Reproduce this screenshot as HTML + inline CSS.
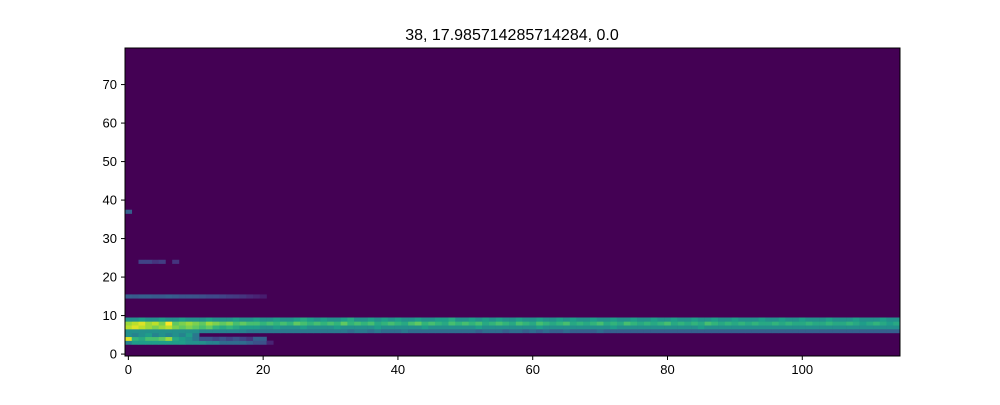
<!DOCTYPE html>
<html><head><meta charset="utf-8"><style>
body{margin:0;background:#fff;}
svg text{font-family:"Liberation Sans","DejaVu Sans",sans-serif;}
</style></head><body>
<svg id="chart" width="1000" height="400" xmlns="http://www.w3.org/2000/svg">
<rect width="1000" height="400" fill="#fff"/>
<text x="512" y="40" font-size="16" text-anchor="middle" fill="#000">38, 17.985714285714284, 0.0</text>
<g id="plot"></g>
<g id="axes"></g>
</svg>
<script>
const nCols = 115, nRows = 80;
const xTicks = [0,20,40,60,80,100];
const yTicks = [0,10,20,30,40,50,60,70];
const row9 = [.5,.5,.55,.5,.5,.55,.5,.5,.55,.5,.5,.5,.55,.5,.5,.5,.55,.5,.5,.55,.5,.5,.55,.5,.5,.55,.6,.55,.5,.55,.5,.5,.55,.6,.5,.5,.55,.5,.55,.5,.55,.5,.5,.55,.5,.5,.55,.55,.6,.5,.5,.55,.5,.55,.5,.55,.5,.5,.55,.5,.5,.55,.5,.5,.55,.5,.55,.5,.5,.55,.5,.5,.55,.5,.5,.55,.5,.5,.55,.5,.5,.55,.5,.5,.55,.5,.5,.55,.5,.5,.55,.5,.5,.5,.55,.5,.5,.55,.5,.5,.55,.5,.5,.5,.55,.5,.5,.5,.55,.5,.5,.5,.55,.5,.5];
const row8 = [.85,.9,.95,.85,.9,.8,1,.75,.8,.85,.8,.75,.85,.8,.75,.8,.7,.75,.7,.7,.65,.7,.65,.7,.65,.75,.7,.65,.7,.65,.7,.65,.75,.65,.7,.65,.7,.6,.65,.7,.65,.6,.7,.75,.65,.7,.65,.6,.7,.65,.7,.65,.7,.6,.65,.7,.65,.6,.7,.65,.6,.7,.65,.6,.65,.7,.6,.65,.6,.65,.7,.6,.65,.6,.7,.65,.6,.65,.6,.65,.7,.6,.65,.6,.65,.6,.7,.65,.6,.65,.6,.65,.6,.65,.6,.6,.65,.6,.65,.6,.6,.65,.6,.6,.65,.6,.6,.65,.6,.55,.6,.65,.6,.55,.6];
const row7 = [.9,.95,.9,.85,.8,.85,.9,.8,.75,.8,.75,.7,.75,.65,.6,.65,.6,.55,.55,.55,.5,.5,.55,.5,.5,.5,.55,.5,.5,.5,.5,.55,.5,.5,.5,.5,.5,.55,.5,.5,.5,.5,.5,.5,.55,.5,.5,.5,.5,.5,.5,.5,.55,.5,.5,.5,.5,.5,.5,.5,.5,.55,.5,.5,.5,.5,.5,.5,.5,.5,.5,.5,.55,.5,.5,.5,.5,.5,.5,.5,.5,.5,.5,.5,.5,.55,.5,.5,.5,.5,.5,.5,.5,.5,.5,.5,.5,.5,.5,.5,.5,.5,.5,.5,.5,.5,.5,.5,.5,.5,.5,.5,.5,.5,.5];
const row6 = [.5,.5,.5,.5,.5,.5,.5,.5,.5,.5,.5,.45,.45,.45,.45,.45,.45,.45,.4,.4,.4,.4,.4,.4,.4,.4,.4,.4,.4,.4,.4,.4,.4,.35,.4,.4,.35,.4,.35,.35,.35,.4,.35,.35,.35,.35,.35,.35,.35,.35,.35,.35,.3,.35,.35,.35,.3,.35,.35,.3,.35,.3,.35,.3,.3,.35,.3,.3,.3,.3,.35,.3,.3,.3,.3,.3,.3,.3,.3,.3,.3,.3,.3,.3,.3,.3,.3,.3,.3,.3,.3,.3,.3,.3,.3,.3,.3,.3,.3,.3,.3,.3,.3,.3,.3,.3,.3,.3,.3,.3,.3,.3,.3,.3,.3];
const row5 = [.5,.45,.5,.55,.45,.5,.45,.5,.45,.55,.4];
const row4 = [.95,.65,.6,.7,.7,.75,.85,.6,.55,.5,.4,.25,.25,.2,.25,.2,.25,.2,.15,.3,.3];
const row3 = [.45,.55,.55,.55,.55,.55,.55,.55,.55,.5,.5,.5,.45,.45,.35,.35,.35,.35,.3,.25,.25,.1];
const row15 = [.3,.28,.3,.3,.28,.28,.3,.28,.26,.26,.25,.24,.22,.22,.2,.18,.17,.15,.12,.1,.08];
const row24 = [0,0,.2,.2,.15,.18,0,.15];
const row37 = [.3];
const rowData = {9:row9,8:row8,7:row7,6:row6,5:row5,4:row4,3:row3,15:row15,24:row24,37:row37};

const VIR = [[68,1,84],[72,40,120],[62,74,137],[49,104,142],[38,130,142],[31,158,137],[53,183,121],[109,205,89],[180,222,44],[253,231,37]];
function viridis(v){v=Math.max(0,Math.min(1,v));const p=v*9,i=Math.min(8,Math.floor(p)),f=p-i;
 const c=VIR[i].map((a,k)=>Math.round(a+(VIR[i+1][k]-a)*f));return `rgb(${c[0]},${c[1]},${c[2]})`;}
const L=125,R=900,T=48,B=356;
const xs=c=>L+(c+0.5)*(R-L)/nCols;
const ys=r=>B-(r+0.5)*(B-T)/nRows;
const cw=(R-L)/nCols, ch=(B-T)/nRows;
const NS="http://www.w3.org/2000/svg";
const plot=document.getElementById('plot');
const bg=document.createElementNS(NS,'rect');
bg.setAttribute('x',L);bg.setAttribute('y',T);bg.setAttribute('width',R-L);bg.setAttribute('height',B-T);bg.setAttribute('fill',viridis(0));


plot.appendChild(bg);
for(const r in rowData){const arr=rowData[r];arr.forEach((v,c)=>{if(!v)return;
 const e=document.createElementNS(NS,'rect');
 e.setAttribute('x',(xs(c)-cw/2).toFixed(2));e.setAttribute('y',(ys(+r)-ch/2).toFixed(2));
 e.setAttribute('width',(cw+0.3).toFixed(2));e.setAttribute('height',(ch+0.3).toFixed(2));e.setAttribute('fill',viridis(v));
 
 
 plot.appendChild(e);});}
const axes=document.getElementById('axes');
const fr=document.createElementNS(NS,'rect');
fr.setAttribute('x',L);fr.setAttribute('y',T);fr.setAttribute('width',R-L);fr.setAttribute('height',B-T);fr.setAttribute('fill','none');fr.setAttribute('stroke','#000');fr.setAttribute('stroke-width','1');


axes.appendChild(fr);
xTicks.forEach(t=>{const x=xs(t-0.5)+cw/2;
 const l=document.createElementNS(NS,'line');l.setAttribute('x1',x);l.setAttribute('x2',x);l.setAttribute('y1',B);l.setAttribute('y2',B+4);l.setAttribute('stroke','#000');
 
 
 axes.appendChild(l);
 const tx=document.createElementNS(NS,'text');tx.setAttribute('x',x);tx.setAttribute('y',B+18);tx.setAttribute('font-size','13');tx.setAttribute('text-anchor','middle');tx.textContent=t;
 
 
 axes.appendChild(tx);});
yTicks.forEach(t=>{const y=ys(t);
 const l=document.createElementNS(NS,'line');l.setAttribute('x1',L-4);l.setAttribute('x2',L);l.setAttribute('y1',y);l.setAttribute('y2',y);l.setAttribute('stroke','#000');
 
 
 axes.appendChild(l);
 const tx=document.createElementNS(NS,'text');tx.setAttribute('x',L-8);tx.setAttribute('y',y+4.5);tx.setAttribute('font-size','13');tx.setAttribute('text-anchor','end');tx.textContent=t;
 
 
 axes.appendChild(tx);});
</script>
</body></html>
